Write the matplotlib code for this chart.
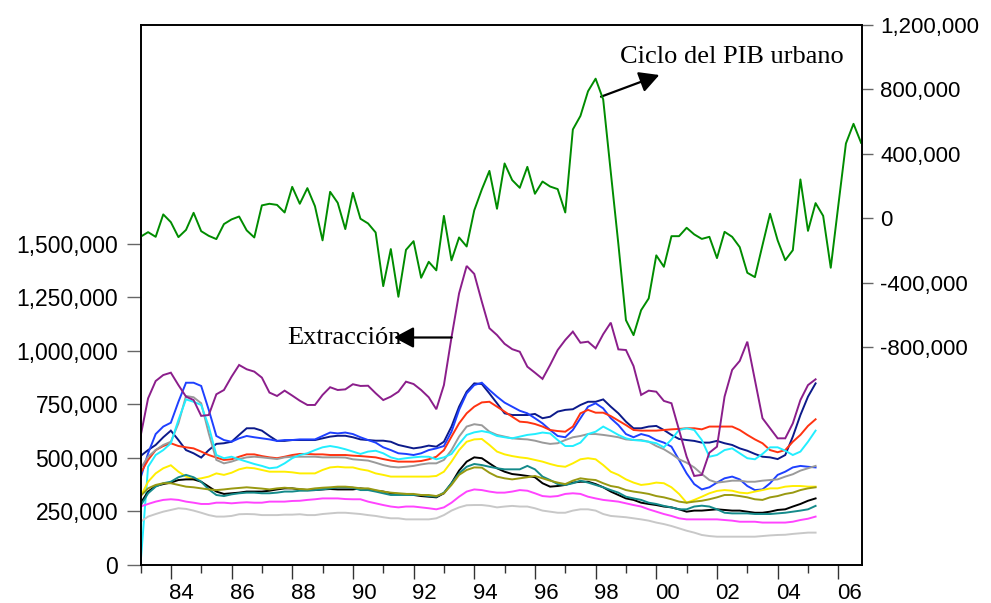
import numpy as np
import matplotlib
matplotlib.use("Agg")
import matplotlib.pyplot as plt
from matplotlib.transforms import ScaledTranslation
from matplotlib.ticker import FuncFormatter

# ---------------- data (thousands; quarterly from 1983Q1) ----------------
extraccion = [599,778,859,887,898, 840,786,770,696,700, 797,817,879,934,914, 903,875,805,789,814,
              791,767,747,747,794, 830,817,820,844,836, 837,802,770,786,809, 856,845,817,783,727,
              840,1063,1269,1397,1360, 1230,1106,1074,1033,1008, 996,926,898,869,934, 1004,1051,1090,1038,1043,
              1012,1078,1132,1007,1004, 929,794,814,809,766, 755,630,505,415,420, 524,552,786,911,953,
              1043,864,685,638,591, 591,661,770,840,867]
navy = [508,536,560,596,627,583,536,521,501,536,565,568,575,607,638,638,627,602,579,579,583,583,583,583,591,599,603,603,596,
        586,583,580,580,575,560,552,544,549,557,552,575,646,739,809,848,845,801,755,708,700,700,700,705,685,692,716,724,727,
        747,762,762,773,739,708,669,638,638,646,649,630,607,588,583,579,571,571,579,568,560,544,533,518,505,502,494,513,599,700,786,848]
blue = [404,521,611,646,664,762,851,851,836,724,602,583,575,591,602,596,591,586,579,583,583,586,586,586,602,618,614,618,611,
        596,583,571,549,536,521,518,513,521,536,544,555,622,724,801,840,851,817,786,758,739,720,708,685,661,630,602,596,630,
        685,739,755,731,685,653,611,596,611,602,583,571,552,490,427,377,352,362,384,404,412,399,368,349,352,381,420,435,455,462,458,455]
red = [427,490,536,555,568,555,549,544,529,513,501,490,493,505,516,516,508,502,498,505,513,518,518,516,516,513,513,513,510,
       508,505,502,494,487,482,482,482,485,493,505,536,599,661,708,739,759,762,739,716,692,669,666,658,646,630,625,622,646,
       708,724,711,711,695,674,653,630,627,627,627,630,633,635,638,638,633,646,646,646,646,630,607,586,568,536,526,536,575,607,649,680]
gray = [451,505,536,560,575,661,789,783,755,614,490,474,482,494,502,505,502,498,494,502,505,505,505,505,502,502,502,501,493,
        490,487,477,466,458,455,458,462,469,474,474,490,536,599,646,657,652,622,607,599,591,588,586,580,571,565,568,583,596,
        602,611,611,607,602,596,586,583,583,575,555,540,518,493,477,455,424,396,384,388,393,393,388,388,393,396,399,412,423,440,451,462]
cyan = [0,458,513,536,568,677,773,762,747,646,513,498,505,493,482,471,462,451,455,474,498,513,521,536,549,555,549,540,529,
        518,529,533,521,502,493,498,502,505,505,493,502,518,565,607,619,625,618,602,596,591,599,607,611,618,614,583,555,555,
        571,611,622,646,627,607,591,583,580,575,568,549,586,630,638,630,583,505,513,536,544,521,498,493,518,549,549,533,513,529,575,627]
yellow = [318,388,427,451,465,435,412,399,404,412,427,420,430,446,454,451,443,435,435,435,432,427,427,427,443,455,458,455,455,
          446,440,427,420,412,412,412,412,412,412,415,435,482,536,575,586,588,560,529,516,508,502,498,490,482,471,462,458,474,
          493,498,493,466,435,420,399,384,373,377,384,381,362,331,290,303,318,334,345,349,346,337,334,342,349,357,357,365,368,368,365,365]
black = [287,342,368,377,384,396,399,399,388,365,342,331,334,337,342,342,342,346,352,357,357,352,349,349,352,354,352,352,352,
         357,352,346,342,334,331,331,326,321,318,315,334,381,440,482,502,498,474,451,435,424,420,415,409,381,365,368,373,384,
         388,388,377,362,342,326,310,303,290,284,279,272,268,259,248,253,253,256,259,256,253,253,248,243,243,248,256,259,272,284,299,310]
teal = [275,334,365,381,388,409,420,409,388,352,326,321,329,334,337,337,334,334,337,342,342,346,346,349,352,357,362,362,360,
        349,349,342,334,326,326,326,326,326,321,318,337,381,427,458,471,466,458,451,446,446,446,462,446,412,396,377,373,381,
        393,384,373,362,349,337,318,310,303,290,284,275,268,259,259,272,276,272,259,243,240,240,240,237,237,237,240,243,248,253,259,275]
olive = [321,357,373,381,381,373,365,362,357,352,349,352,356,359,362,359,356,352,357,360,357,354,352,357,360,362,365,365,362,
         357,357,349,342,337,334,331,331,326,326,321,334,373,420,443,455,454,430,412,404,399,404,409,415,404,393,384,377,393,
         404,399,396,381,368,362,349,342,337,331,321,315,306,295,290,295,299,306,315,326,326,321,315,306,303,315,321,331,337,349,357,362]
magenta = [272,284,295,303,306,303,295,290,284,284,290,290,287,290,292,290,290,295,295,295,298,299,303,306,310,310,310,307,306,
           306,295,287,279,272,268,272,272,268,264,259,268,290,318,342,352,349,342,337,337,342,349,346,334,321,318,321,331,334,
           331,318,310,303,299,295,287,279,272,259,248,237,228,217,212,212,212,212,212,209,206,201,201,201,197,197,197,197,201,209,215,225]
lightgray = [201,225,237,248,256,264,261,253,243,232,225,225,228,236,237,236,232,232,232,234,234,236,232,232,237,240,243,243,240,
             237,232,228,222,217,217,212,212,212,212,217,232,253,268,278,279,279,275,268,272,275,272,272,264,253,248,243,243,253,
             259,259,253,237,228,225,222,217,212,206,197,190,181,170,159,150,139,134,131,131,131,131,131,131,134,137,139,140,144,147,150,150]
ciclo_pib = [-114,-85,-114,25,-23, -116,-71,35,-79,-108, -128,-35,-6,12,-74, -118,81,91,84,37,
             196,91,188,76,-136, 165,97,-66,159,-2, -31,-87,-420,-190,-486, -195,-141,-368,-269,-322,
             16,-260,-118,-174,50, 180,295,60,341,238, 190,320,153,229,198, 182,37,552,636,789,
             867,738,287,-159,-631, -724,-569,-496,-229,-300, -110,-110,-58,-99,-127, -114,-246,-83,-114,-178,
             -337,-364,-166,29,-136, -259,-197,242,-77,95, 16,-306,82,465,587, 469]

left_series = [
    (navy, '#0c1a8a'), (blue, '#1e40ff'), (red, '#ff3311'), (gray, '#9a9a9a'),
    (cyan, '#22eeff'), (yellow, '#ffee00'), (black, '#000000'), (teal, '#148a8a'),
    (olive, '#999911'), (magenta, '#ff44ff'), (lightgray, '#c8c8c8'), (extraccion, '#8b1e8b'),
]

left_ticks = [0, 250000, 500000, 750000, 1000000, 1250000, 1500000]
right_ticks = [-800000, -400000, 0, 400000, 800000, 1200000]
year_labels = ['84', '86', '88', '90', '92', '94', '96', '98', '00', '02', '04', '06']
label_years = [1984, 1986, 1988, 1990, 1992, 1994, 1996, 1998, 2000, 2002, 2004, 2006]

# ---------------- figure ----------------
plt.rcParams['font.family'] = ['Liberation Sans', 'DejaVu Sans']
fig = plt.figure(figsize=(9.91, 6.03), dpi=100)
ax = fig.add_axes([140.5/991, 38.3/603, (862-140.5)/991, (564.7-25)/603])
ax2 = ax.twinx()

t0 = 1983.0
for vals, col in left_series:
    t = t0 + np.arange(len(vals)) / 4.0
    ax.plot(t, np.array(vals) * 1000, color=col, lw=1.4, solid_joinstyle='miter')

tg = t0 + np.arange(len(ciclo_pib)) / 4.0
ax2.plot(tg, np.array(ciclo_pib) * 1000, color='#008c00', lw=1.4)

ax.set_xlim(1983.0, 2006.78)
ax.set_ylim(0, 2524000)
ax2.set_ylim(-2148000, 1200000)

fmt = FuncFormatter(lambda v, p: f"{int(round(v)):,}")
ax.set_yticks(left_ticks)
ax.yaxis.set_major_formatter(fmt)
ax2.set_yticks(right_ticks)
ax2.yaxis.set_major_formatter(fmt)

ax.set_xticks(label_years)
ax.set_xticklabels(year_labels)
ax.set_xticks([y for y in range(1983, 2007) if y % 2 == 1], minor=True)

ax.tick_params(axis='x', which='major', direction='out', length=10, width=1, pad=3,
               labelsize=16, color='#333333')
ax.tick_params(axis='x', which='minor', direction='out', length=6, width=1, color='#333333')
ax.tick_params(axis='y', which='major', direction='out', length=10, width=1, pad=6,
               labelsize=16.5, color='#666666')
ax2.tick_params(axis='y', which='major', direction='out', length=8, width=1, pad=5,
                labelsize=16, color='#666666')

off = ScaledTranslation(11/100, 0, fig.dpi_scale_trans)
for lab in ax.get_xticklabels():
    lab.set_transform(lab.get_transform() + off)

for a in (ax, ax2):
    for s in a.spines.values():
        s.set_linewidth(1.2)
        s.set_color('black')

# ---------------- annotations ----------------
serif = ['Liberation Serif', 'DejaVu Serif']
fig.text(620/991, 1 - 62.7/603, 'Ciclo del PIB urbano', family=serif, fontsize=19,
         ha='left', va='baseline')
fig.text(287/991, 1 - 344/603, 'Extracción', family=serif, fontsize=19,
         ha='left', va='baseline')

arrow = dict(arrowstyle='-|>,head_length=0.75,head_width=0.4', mutation_scale=16,
             color='black', lw=1.6, shrinkA=0, shrinkB=0)
ax.annotate('', xy=(659.3/991, 1 - 75/603), xytext=(601/991, 1 - 96.7/603),
            xycoords='figure fraction', textcoords='figure fraction', arrowprops=arrow)
ax.annotate('', xy=(394/991, 1 - 337.5/603), xytext=(451.7/991, 1 - 337.5/603),
            xycoords='figure fraction', textcoords='figure fraction', arrowprops=arrow)

fig.savefig('out.png', dpi=100)
